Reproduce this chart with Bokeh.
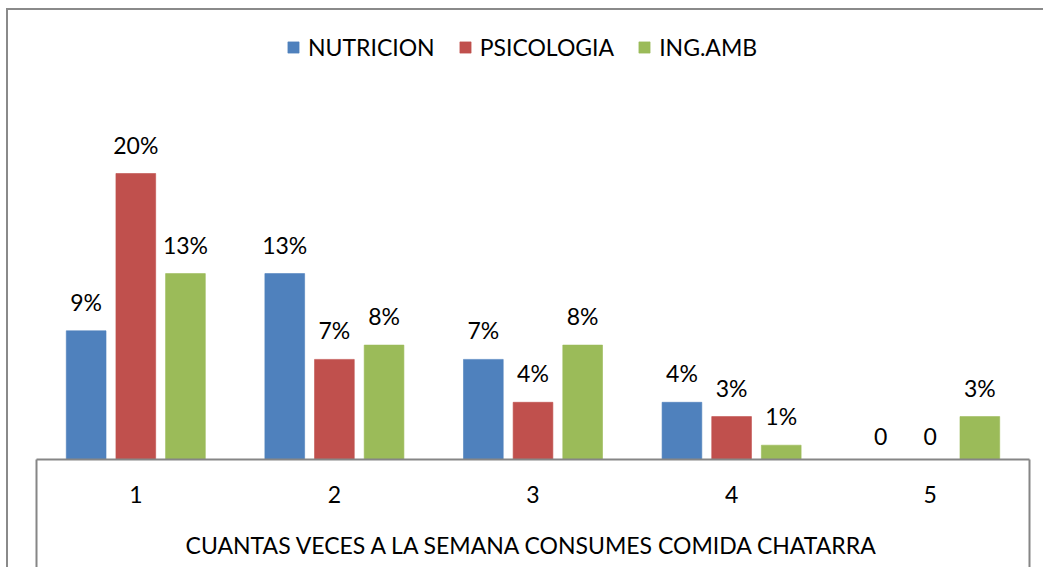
from bokeh.plotting import figure
from bokeh.models import ColumnDataSource, Range1d, FixedTicker, Legend, LegendItem, LinearAxis
from bokeh.core.properties import value
from bokeh.embed import file_html
from bokeh.resources import INLINE

categories = ["1", "2", "3", "4", "5"]
series_names = ["NUTRICION", "PSICOLOGIA", "ING.AMB"]
nutricion = [9, 13, 7, 4, 0]
psicologia = [20, 7, 4, 3, 0]
ing_amb = [13, 8, 8, 1, 3]
colors = ["#4F81BD", "#C0504D", "#9BBB59"]
axis_title = "CUANTAS VECES A LA SEMANA CONSUMES COMIDA CHATARRA"

FONT = "Lato"
FS = "23px"

p = figure(width=1037, height=559, output_backend="svg", toolbar_location=None,
           x_range=Range1d(0.5, 5.5), y_range=Range1d(0, 30.7),
           min_border_left=28, min_border_right=16, min_border_top=10,
           min_border_bottom=110, x_axis_location=None, y_axis_location=None)
p.styles = {"margin-left": "6px", "margin-top": "8px",
            "border-top": "2px solid #8a8a8a", "border-left": "2px solid #8a8a8a"}
p.outline_line_color = None
p.xgrid.visible = False
p.ygrid.visible = False

xs = list(range(1, len(categories) + 1))
offsets = [-0.25, 0.0, 0.25]
renderers = []
for name, vals, col, off in zip(series_names, [nutricion, psicologia, ing_amb], colors, offsets):
    src = ColumnDataSource(dict(
        x=[x + off for x in xs], top=vals,
        label=[f"{v}%" if v else "0" for v in vals]))
    r = p.vbar(x="x", top="top", bottom=0, width=0.2, source=src,
               fill_color=col, line_color=col, line_alpha=0.6)
    renderers.append(r)
    p.text(x="x", y="top", text="label", source=src, text_align="center",
           text_baseline="bottom", y_offset=-15, text_font=value(FONT),
           text_font_size=FS, text_color="#000000")

xaxis = LinearAxis(ticker=FixedTicker(ticks=xs, minor_ticks=[0.5, 5.5]))
xaxis.major_label_overrides = {x: c for x, c in zip(xs, categories)}
xaxis.axis_line_color = "#868686"
xaxis.axis_line_width = 2
xaxis.major_tick_line_color = None
xaxis.major_tick_out = 0
xaxis.major_tick_in = 0
xaxis.minor_tick_line_color = "#868686"
xaxis.minor_tick_line_width = 2
xaxis.minor_tick_out = 110
xaxis.minor_tick_in = 0
xaxis.major_label_standoff = -84
xaxis.major_label_text_font = FONT
xaxis.major_label_text_font_size = FS
xaxis.major_label_text_color = "#000000"
xaxis.axis_label = axis_title
xaxis.axis_label_standoff = 25
xaxis.axis_label_text_font = FONT
xaxis.axis_label_text_font_size = FS
xaxis.axis_label_text_font_style = "normal"
xaxis.axis_label_text_color = "#000000"
p.add_layout(xaxis, "below")

legend = Legend(items=[LegendItem(label=n, renderers=[r]) for n, r in zip(series_names, renderers)],
                orientation="horizontal", location=(250, 398))
legend.glyph_width = 14
legend.glyph_height = 14
legend.label_standoff = 8
legend.spacing = 23
legend.padding = 0
legend.margin = 0
legend.border_line_color = None
legend.background_fill_alpha = 0
legend.label_text_font = FONT
legend.label_text_font_size = FS
legend.label_text_color = "#000000"
p.add_layout(legend)

open("out.html", "w").write(file_html(p, INLINE))
